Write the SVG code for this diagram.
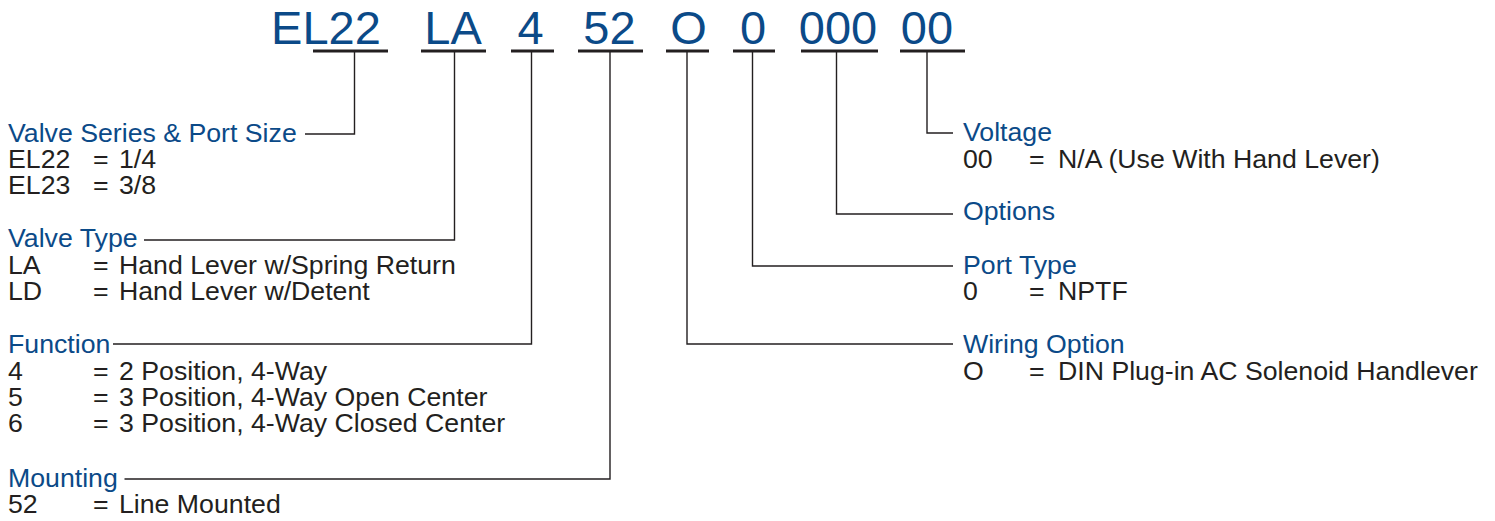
<svg xmlns="http://www.w3.org/2000/svg" width="1495" height="521" viewBox="0 0 1495 521">
<style>
.code{font-family:"Liberation Sans",Arial,sans-serif;font-size:47px;fill:#0b4a88;text-anchor:middle}
.ul{stroke:#231f20;stroke-width:3;fill:none}
.h{font-family:"Liberation Sans",Arial,sans-serif;font-size:26.7px;fill:#0b4a88}
.t{font-family:"Liberation Sans",Arial,sans-serif;font-size:26.7px;fill:#231f20}
.c{stroke:#231f20;stroke-width:1.4;fill:none}
</style>
<rect width="1495" height="521" fill="#ffffff"/>
<g id="code-EL22"><text class="code" x="326" y="44">EL22</text><line class="ul" x1="313" y1="51" x2="388" y2="51"/></g>
<g id="code-LA"><text class="code" x="453" y="44">LA</text><line class="ul" x1="421" y1="51" x2="486" y2="51"/></g>
<g id="code-4"><text class="code" x="530.5" y="44">4</text><line class="ul" x1="511" y1="51" x2="554" y2="51"/></g>
<g id="code-52"><text class="code" x="609.5" y="44">52</text><line class="ul" x1="578" y1="51" x2="643" y2="51"/></g>
<g id="code-O"><text class="code" x="688.5" y="44">O</text><line class="ul" x1="666" y1="51" x2="709" y2="51"/></g>
<g id="code-0"><text class="code" x="753" y="44">0</text><line class="ul" x1="733" y1="51" x2="775" y2="51"/></g>
<g id="code-000"><text class="code" x="838" y="44">000</text><line class="ul" x1="801" y1="51" x2="878" y2="51"/></g>
<g id="code-00"><text class="code" x="927" y="44">00</text><line class="ul" x1="900" y1="51" x2="965" y2="51"/></g>

<g id="connectors">
<path class="c" d="M354.5,51 V134 H305"/>
<path class="c" d="M454.5,51 V240 H144"/>
<path class="c" d="M531.5,51 V344 H113"/>
<path class="c" d="M610,51 V479 H124.5"/>
<path class="c" d="M687,51 V344 H953"/>
<path class="c" d="M752.5,51 V266 H953"/>
<path class="c" d="M836.5,51 V214 H953"/>
<path class="c" d="M927,51 V133 H953"/>
</g>

<g id="valve-series">
<text class="h" x="8" y="141.5">Valve Series &amp; Port Size</text>
<text class="t" y="167.5"><tspan x="8">EL22</tspan><tspan x="93">=</tspan><tspan x="119">1/4</tspan></text>
<text class="t" y="193.5"><tspan x="8">EL23</tspan><tspan x="93">=</tspan><tspan x="119">3/8</tspan></text>
</g>
<g id="valve-type">
<text class="h" x="8" y="247">Valve Type</text>
<text class="t" y="273.5"><tspan x="8">LA</tspan><tspan x="93">=</tspan><tspan x="119">Hand Lever w/Spring Return</tspan></text>
<text class="t" y="299.5"><tspan x="8">LD</tspan><tspan x="93">=</tspan><tspan x="119">Hand Lever w/Detent</tspan></text>
</g>
<g id="function">
<text class="h" x="8" y="353">Function</text>
<text class="t" y="379.5"><tspan x="8">4</tspan><tspan x="93">=</tspan><tspan x="119">2 Position, 4-Way</tspan></text>
<text class="t" y="405.5"><tspan x="8">5</tspan><tspan x="93">=</tspan><tspan x="119">3 Position, 4-Way Open Center</tspan></text>
<text class="t" y="431.5"><tspan x="8">6</tspan><tspan x="93">=</tspan><tspan x="119">3 Position, 4-Way Closed Center</tspan></text>
</g>
<g id="mounting">
<text class="h" x="8" y="487">Mounting</text>
<text class="t" y="513"><tspan x="8">52</tspan><tspan x="93">=</tspan><tspan x="119">Line Mounted</tspan></text>
</g>
<g id="voltage">
<text class="h" x="963" y="141">Voltage</text>
<text class="t" y="167.5"><tspan x="963">00</tspan><tspan x="1029">=</tspan><tspan x="1058">N/A (Use With Hand Lever)</tspan></text>
</g>
<g id="options">
<text class="h" x="963" y="220">Options</text>
</g>
<g id="port-type">
<text class="h" x="963" y="273.5">Port Type</text>
<text class="t" y="300"><tspan x="963">0</tspan><tspan x="1029">=</tspan><tspan x="1058">NPTF</tspan></text>
</g>
<g id="wiring-option">
<text class="h" x="963" y="353">Wiring Option</text>
<text class="t" y="379.5"><tspan x="963">O</tspan><tspan x="1029">=</tspan><tspan x="1058">DIN Plug-in AC Solenoid Handlever</tspan></text>
</g>
</svg>
